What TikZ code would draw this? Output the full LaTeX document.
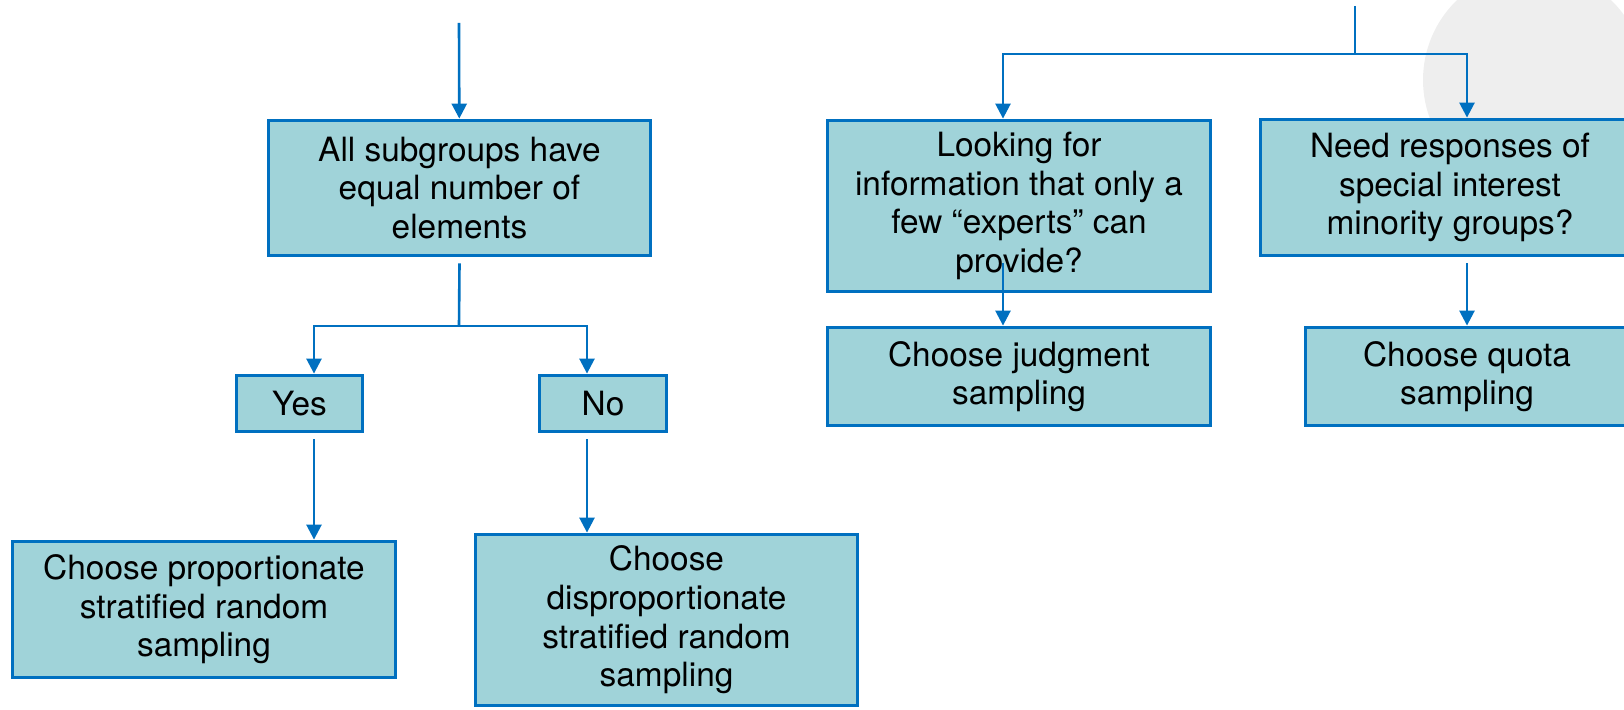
\documentclass[tikz,border=0pt]{standalone}
\usepackage{fontspec}
\setmainfont{TeX Gyre Heros}
\usepackage{tikz}
\usetikzlibrary{
  arrows.meta,
  positioning,
  calc
}
\usepackage{xcolor}
\definecolor{boxTeal}{RGB}{160,211,217}
\definecolor{lineBlue}{RGB}{0,112,192}
\definecolor{paleGrey}{RGB}{238,238,238}
\tikzset{
  choice/.style={
    draw=lineBlue,
    fill=boxTeal,
    line width=1.9pt,
    inner sep=0pt,
    align=center,
    font=\fontsize{16.7}{19.3}\selectfont
  },
  link/.style={
    draw=lineBlue,
    line width=1.3pt
  }
}

\begin{document}
\begin{tikzpicture}[
      x=0.5pt, y=-0.5pt,
      >={Triangle[length=7.5pt,width=7.5pt]}
      ]

      \clip (0,0) rectangle (1624,710);
      \fill[paleGrey] (1534,80) circle[radius=55.5pt];

      % stratified branch
      \node[choice, minimum width=191pt, minimum height=67.5pt] (sub) at (459.5,188)
        {All subgroups have\\equal number of\\elements};
      \node[choice, minimum width=63pt, minimum height=28pt] (yes) at (299.5,403.5) {Yes};
      \node[choice, minimum width=63.5pt, minimum height=28pt] (no) at (603,403.5) {No};
      \node[choice, minimum width=191.5pt, minimum height=68pt] (prop) at (204,609.5)
        {Choose proportionate\\stratified random\\sampling};
      \node[choice, minimum width=191pt, minimum height=85.5pt] (disprop) at (666.5,620)
        {Choose\\disproportionate\\stratified random\\sampling};

      % non-probability branch
      \node[choice, minimum width=191.5pt, minimum height=85.5pt] (looking) at (1019,206)
        {Looking for\\information that only a\\few “experts” can\\provide?};
      \node[choice, minimum width=191.5pt, minimum height=49pt] (judgment) at (1019,376.5)
        {Choose judgment\\sampling};
      \node[choice, minimum width=189.5pt, minimum height=68pt] (need) at (1450,187.5)
        {Need responses of\\special interest\\minority groups?};
      \node[choice, minimum width=161.5pt, minimum height=49pt] (quota) at (1467,376.5)
        {Choose quota\\sampling};

      \coordinate (leftTop) at (459,23);
      \coordinate (split) at (459,326);
      \draw[link,->] (leftTop) -- (sub);
      \draw[link] ($(sub.south)+(0,6)$) -- (split);
      \draw[link,->] (split) -| ($(yes.north)+(14.5,0)$);
      \draw[link,->] (split) -| ($(no.north)+(-16,0)$);
      \draw[link,->] ($(yes.south)+(14.5,6)$) -- ($(prop.north)+(110,0)$);
      \draw[link,->] ($(no.south)+(-16,6)$) -- ($(disprop.north)+(-79.5,0)$);

      \coordinate (rightTop) at (1355,6);
      \coordinate (split2) at (1355,54);
      \draw[link] (rightTop) -- (split2);
      \draw[link,->] (split2) -| ($(looking.north)+(-16,0)$);
      \draw[link,->] (split2) -| ($(need.north)+(17,0)$);
      \draw[link,->] ($(looking.south)+(-16,-30)$) -- ($(judgment.north)+(-16,0)$);
      \draw[link,->] ($(need.south)+(17,6)$) -- (quota);
    \end{tikzpicture}
\end{document}
